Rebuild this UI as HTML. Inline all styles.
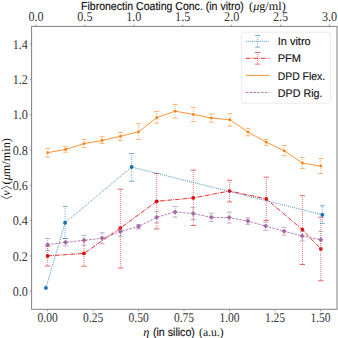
<!DOCTYPE html>
<html><head><meta charset="utf-8"><style>html,body{margin:0;padding:0;background:#fff;width:338px;height:338px;overflow:hidden}svg{display:block;text-rendering:geometricPrecision}</style></head>
<body><svg width="338" height="338" viewBox="0 0 338 338">
<rect width="338" height="338" fill="#fff"/>
<g fill="none"><g opacity="0.6"><line x1="47.6" y1="246" x2="47.6" y2="266.0" stroke="#e40505" stroke-width="0.9" stroke-dasharray="1 1"/><path d="M44.9 246.2H50.3M44.9 266.0H50.3" stroke="#e40505" stroke-width="1.0"/></g>
<g opacity="0.6"><line x1="83.9" y1="240" x2="83.9" y2="266.2" stroke="#e40505" stroke-width="0.9" stroke-dasharray="1 1"/><path d="M81.2 240.6H86.6M81.2 266.2H86.6" stroke="#e40505" stroke-width="1.0"/></g>
<g opacity="0.6"><line x1="120.4" y1="189" x2="120.4" y2="267.9" stroke="#e40505" stroke-width="0.9" stroke-dasharray="1 1"/><path d="M117.7 189.2H123.1M117.7 267.9H123.1" stroke="#e40505" stroke-width="1.0"/></g>
<g opacity="0.6"><line x1="156.7" y1="173" x2="156.7" y2="229.0" stroke="#e40505" stroke-width="0.9" stroke-dasharray="1 1"/><path d="M154.0 173.5H159.4M154.0 229.0H159.4" stroke="#e40505" stroke-width="1.0"/></g>
<g opacity="0.6"><line x1="193.3" y1="170" x2="193.3" y2="225.5" stroke="#e40505" stroke-width="0.9" stroke-dasharray="1 1"/><path d="M190.6 170.1H196.0M190.6 225.5H196.0" stroke="#e40505" stroke-width="1.0"/></g>
<g opacity="0.6"><line x1="229.5" y1="180" x2="229.5" y2="201.9" stroke="#e40505" stroke-width="0.9" stroke-dasharray="1 1"/><path d="M226.8 180.2H232.2M226.8 201.9H232.2" stroke="#e40505" stroke-width="1.0"/></g>
<g opacity="0.6"><line x1="266.3" y1="177" x2="266.3" y2="220.4" stroke="#e40505" stroke-width="0.9" stroke-dasharray="1 1"/><path d="M263.6 177.2H269.0M263.6 220.4H269.0" stroke="#e40505" stroke-width="1.0"/></g>
<g opacity="0.6"><line x1="302.4" y1="195" x2="302.4" y2="264.5" stroke="#e40505" stroke-width="0.9" stroke-dasharray="1 1"/><path d="M299.7 195.7H305.1M299.7 264.5H305.1" stroke="#e40505" stroke-width="1.0"/></g>
<g opacity="0.6"><line x1="320.8" y1="217" x2="320.8" y2="280.7" stroke="#e40505" stroke-width="0.9" stroke-dasharray="1 1"/><path d="M318.1 217.2H323.5M318.1 280.7H323.5" stroke="#e40505" stroke-width="1.0"/></g></g>
<polyline points="47.6,255.9 83.9,253.4 120.4,228.1 156.7,201.3 193.3,197.9 229.5,191.0 266.3,198.9 302.4,229.7 320.8,248.9" fill="none" stroke="#e40505" stroke-width="0.85" stroke-dasharray="4.5 1.1 0.9 1.1"/>
<circle cx="47.6" cy="255.9" r="1.85" fill="#e40505"/>
<circle cx="83.9" cy="253.4" r="1.85" fill="#e40505"/>
<circle cx="120.4" cy="228.1" r="1.85" fill="#e40505"/>
<circle cx="156.7" cy="201.3" r="1.85" fill="#e40505"/>
<circle cx="193.3" cy="197.9" r="1.85" fill="#e40505"/>
<circle cx="229.5" cy="191.0" r="1.85" fill="#e40505"/>
<circle cx="266.3" cy="198.9" r="1.85" fill="#e40505"/>
<circle cx="302.4" cy="229.7" r="1.85" fill="#e40505"/>
<circle cx="320.8" cy="248.9" r="1.85" fill="#e40505"/>
<g fill="none"><g opacity="0.6"><line x1="47.7" y1="148" x2="47.7" y2="157.1" stroke="#ff7f0e" stroke-width="0.9" stroke-dasharray="1 1"/><path d="M45.3 148.4H50.1M45.3 157.1H50.1" stroke="#ff7f0e" stroke-width="1.0"/></g>
<g opacity="0.6"><line x1="65.5" y1="146" x2="65.5" y2="152.1" stroke="#ff7f0e" stroke-width="0.9" stroke-dasharray="1 1"/><path d="M63.1 146.8H67.9M63.1 152.1H67.9" stroke="#ff7f0e" stroke-width="1.0"/></g>
<g opacity="0.6"><line x1="84.1" y1="139" x2="84.1" y2="147.6" stroke="#ff7f0e" stroke-width="0.9" stroke-dasharray="1 1"/><path d="M81.7 139.6H86.5M81.7 147.6H86.5" stroke="#ff7f0e" stroke-width="1.0"/></g>
<g opacity="0.6"><line x1="102.1" y1="136" x2="102.1" y2="143.4" stroke="#ff7f0e" stroke-width="0.9" stroke-dasharray="1 1"/><path d="M99.7 136.8H104.5M99.7 143.4H104.5" stroke="#ff7f0e" stroke-width="1.0"/></g>
<g opacity="0.6"><line x1="120.4" y1="132" x2="120.4" y2="140.4" stroke="#ff7f0e" stroke-width="0.9" stroke-dasharray="1 1"/><path d="M118.0 132.4H122.8M118.0 140.4H122.8" stroke="#ff7f0e" stroke-width="1.0"/></g>
<g opacity="0.6"><line x1="138.5" y1="123" x2="138.5" y2="139.4" stroke="#ff7f0e" stroke-width="0.9" stroke-dasharray="1 1"/><path d="M136.1 123.7H140.9M136.1 139.4H140.9" stroke="#ff7f0e" stroke-width="1.0"/></g>
<g opacity="0.6"><line x1="156.7" y1="111" x2="156.7" y2="123.1" stroke="#ff7f0e" stroke-width="0.9" stroke-dasharray="1 1"/><path d="M154.3 111.5H159.1M154.3 123.1H159.1" stroke="#ff7f0e" stroke-width="1.0"/></g>
<g opacity="0.6"><line x1="175.1" y1="104" x2="175.1" y2="118.1" stroke="#ff7f0e" stroke-width="0.9" stroke-dasharray="1 1"/><path d="M172.7 104.4H177.5M172.7 118.1H177.5" stroke="#ff7f0e" stroke-width="1.0"/></g>
<g opacity="0.6"><line x1="193.3" y1="107" x2="193.3" y2="121.5" stroke="#ff7f0e" stroke-width="0.9" stroke-dasharray="1 1"/><path d="M190.9 107.4H195.7M190.9 121.5H195.7" stroke="#ff7f0e" stroke-width="1.0"/></g>
<g opacity="0.6"><line x1="211.3" y1="114" x2="211.3" y2="122.1" stroke="#ff7f0e" stroke-width="0.9" stroke-dasharray="1 1"/><path d="M208.9 114.0H213.7M208.9 122.1H213.7" stroke="#ff7f0e" stroke-width="1.0"/></g>
<g opacity="0.6"><line x1="229.9" y1="113" x2="229.9" y2="126.1" stroke="#ff7f0e" stroke-width="0.9" stroke-dasharray="1 1"/><path d="M227.5 113.7H232.3M227.5 126.1H232.3" stroke="#ff7f0e" stroke-width="1.0"/></g>
<g opacity="0.6"><line x1="248.0" y1="128" x2="248.0" y2="135.8" stroke="#ff7f0e" stroke-width="0.9" stroke-dasharray="1 1"/><path d="M245.6 128.4H250.4M245.6 135.8H250.4" stroke="#ff7f0e" stroke-width="1.0"/></g>
<g opacity="0.6"><line x1="266.2" y1="139" x2="266.2" y2="145.3" stroke="#ff7f0e" stroke-width="0.9" stroke-dasharray="1 1"/><path d="M263.8 139.4H268.6M263.8 145.3H268.6" stroke="#ff7f0e" stroke-width="1.0"/></g>
<g opacity="0.6"><line x1="284.3" y1="145" x2="284.3" y2="155.8" stroke="#ff7f0e" stroke-width="0.9" stroke-dasharray="1 1"/><path d="M281.9 145.6H286.7M281.9 155.8H286.7" stroke="#ff7f0e" stroke-width="1.0"/></g>
<g opacity="0.6"><line x1="302.4" y1="157" x2="302.4" y2="168.6" stroke="#ff7f0e" stroke-width="0.9" stroke-dasharray="1 1"/><path d="M300.0 157.4H304.8M300.0 168.6H304.8" stroke="#ff7f0e" stroke-width="1.0"/></g>
<g opacity="0.6"><line x1="320.8" y1="158" x2="320.8" y2="173.5" stroke="#ff7f0e" stroke-width="0.9" stroke-dasharray="1 1"/><path d="M318.4 158.6H323.2M318.4 173.5H323.2" stroke="#ff7f0e" stroke-width="1.0"/></g></g>
<polyline points="47.7,152.6 65.5,149.5 84.1,143.6 102.1,140.5 120.4,136.3 138.5,131.8 156.7,117.7 175.1,111.2 193.3,114.4 211.3,118.1 229.9,119.7 248.0,132.1 266.2,142.1 284.3,150.8 302.4,163.0 320.8,166.1" fill="none" stroke="#ff7f0e" stroke-width="0.85"/>
<circle cx="47.7" cy="152.6" r="1.4" fill="#ff7f0e"/>
<circle cx="65.5" cy="149.5" r="1.4" fill="#ff7f0e"/>
<circle cx="84.1" cy="143.6" r="1.4" fill="#ff7f0e"/>
<circle cx="102.1" cy="140.5" r="1.4" fill="#ff7f0e"/>
<circle cx="120.4" cy="136.3" r="1.4" fill="#ff7f0e"/>
<circle cx="138.5" cy="131.8" r="1.4" fill="#ff7f0e"/>
<circle cx="156.7" cy="117.7" r="1.4" fill="#ff7f0e"/>
<circle cx="175.1" cy="111.2" r="1.4" fill="#ff7f0e"/>
<circle cx="193.3" cy="114.4" r="1.4" fill="#ff7f0e"/>
<circle cx="211.3" cy="118.1" r="1.4" fill="#ff7f0e"/>
<circle cx="229.9" cy="119.7" r="1.4" fill="#ff7f0e"/>
<circle cx="248.0" cy="132.1" r="1.4" fill="#ff7f0e"/>
<circle cx="266.2" cy="142.1" r="1.4" fill="#ff7f0e"/>
<circle cx="284.3" cy="150.8" r="1.4" fill="#ff7f0e"/>
<circle cx="302.4" cy="163.0" r="1.4" fill="#ff7f0e"/>
<circle cx="320.8" cy="166.1" r="1.4" fill="#ff7f0e"/>
<g fill="none"><g opacity="0.6"><line x1="47.6" y1="238" x2="47.6" y2="250.3" stroke="#a46aa4" stroke-width="0.9" stroke-dasharray="1 1"/><path d="M45.2 238.5H50.0M45.2 250.3H50.0" stroke="#a46aa4" stroke-width="1.0"/></g>
<g opacity="0.6"><line x1="65.5" y1="238" x2="65.5" y2="245.9" stroke="#a46aa4" stroke-width="0.9" stroke-dasharray="1 1"/><path d="M63.1 238.6H67.9M63.1 245.9H67.9" stroke="#a46aa4" stroke-width="1.0"/></g>
<g opacity="0.6"><line x1="84.0" y1="235" x2="84.0" y2="245.3" stroke="#a46aa4" stroke-width="0.9" stroke-dasharray="1 1"/><path d="M81.6 235.6H86.4M81.6 245.3H86.4" stroke="#a46aa4" stroke-width="1.0"/></g>
<g opacity="0.6"><line x1="102.2" y1="232" x2="102.2" y2="243.7" stroke="#a46aa4" stroke-width="0.9" stroke-dasharray="1 1"/><path d="M99.8 232.9H104.6M99.8 243.7H104.6" stroke="#a46aa4" stroke-width="1.0"/></g>
<g opacity="0.6"><line x1="120.4" y1="226" x2="120.4" y2="236.1" stroke="#a46aa4" stroke-width="0.9" stroke-dasharray="1 1"/><path d="M118.0 226.8H122.8M118.0 236.1H122.8" stroke="#a46aa4" stroke-width="1.0"/></g>
<g opacity="0.6"><line x1="138.5" y1="224" x2="138.5" y2="228.9" stroke="#a46aa4" stroke-width="0.9" stroke-dasharray="1 1"/><path d="M136.1 224.5H140.9M136.1 228.9H140.9" stroke="#a46aa4" stroke-width="1.0"/></g>
<g opacity="0.6"><line x1="156.7" y1="211" x2="156.7" y2="222.9" stroke="#a46aa4" stroke-width="0.9" stroke-dasharray="1 1"/><path d="M154.3 211.6H159.1M154.3 222.9H159.1" stroke="#a46aa4" stroke-width="1.0"/></g>
<g opacity="0.6"><line x1="175.1" y1="206" x2="175.1" y2="217.1" stroke="#a46aa4" stroke-width="0.9" stroke-dasharray="1 1"/><path d="M172.7 206.6H177.5M172.7 217.1H177.5" stroke="#a46aa4" stroke-width="1.0"/></g>
<g opacity="0.6"><line x1="193.2" y1="207" x2="193.2" y2="219.6" stroke="#a46aa4" stroke-width="0.9" stroke-dasharray="1 1"/><path d="M190.8 207.6H195.6M190.8 219.6H195.6" stroke="#a46aa4" stroke-width="1.0"/></g>
<g opacity="0.6"><line x1="211.3" y1="213" x2="211.3" y2="221.4" stroke="#a46aa4" stroke-width="0.9" stroke-dasharray="1 1"/><path d="M208.9 213.3H213.7M208.9 221.4H213.7" stroke="#a46aa4" stroke-width="1.0"/></g>
<g opacity="0.6"><line x1="229.2" y1="212" x2="229.2" y2="223.0" stroke="#a46aa4" stroke-width="0.9" stroke-dasharray="1 1"/><path d="M226.8 212.1H231.6M226.8 223.0H231.6" stroke="#a46aa4" stroke-width="1.0"/></g>
<g opacity="0.6"><line x1="247.9" y1="217" x2="247.9" y2="224.3" stroke="#a46aa4" stroke-width="0.9" stroke-dasharray="1 1"/><path d="M245.5 217.9H250.3M245.5 224.3H250.3" stroke="#a46aa4" stroke-width="1.0"/></g>
<g opacity="0.6"><line x1="265.7" y1="222" x2="265.7" y2="230.3" stroke="#a46aa4" stroke-width="0.9" stroke-dasharray="1 1"/><path d="M263.3 222.1H268.1M263.3 230.3H268.1" stroke="#a46aa4" stroke-width="1.0"/></g>
<g opacity="0.6"><line x1="284.1" y1="227" x2="284.1" y2="235.1" stroke="#a46aa4" stroke-width="0.9" stroke-dasharray="1 1"/><path d="M281.7 227.4H286.5M281.7 235.1H286.5" stroke="#a46aa4" stroke-width="1.0"/></g>
<g opacity="0.6"><line x1="302.2" y1="231" x2="302.2" y2="240.9" stroke="#a46aa4" stroke-width="0.9" stroke-dasharray="1 1"/><path d="M299.8 231.0H304.6M299.8 240.9H304.6" stroke="#a46aa4" stroke-width="1.0"/></g>
<g opacity="0.6"><line x1="320.8" y1="231" x2="320.8" y2="248.3" stroke="#a46aa4" stroke-width="0.9" stroke-dasharray="1 1"/><path d="M318.4 231.3H323.2M318.4 248.3H323.2" stroke="#a46aa4" stroke-width="1.0"/></g></g>
<polyline points="47.6,244.7 65.5,242.3 84.0,240.3 102.2,238.3 120.4,231.6 138.5,226.6 156.7,217.3 175.1,211.9 193.2,213.6 211.3,217.3 229.2,217.6 247.9,221.1 265.7,226.1 284.1,231.3 302.2,235.9 320.8,239.8" fill="none" stroke="#a46aa4" stroke-width="0.85" stroke-dasharray="2.6 1.2"/>
<path d="M47.6 242.2L50.1 244.7L47.6 247.2L45.1 244.7Z" fill="#a46aa4"/>
<path d="M65.5 239.8L68.0 242.3L65.5 244.8L63.0 242.3Z" fill="#a46aa4"/>
<path d="M84.0 237.8L86.5 240.3L84.0 242.8L81.5 240.3Z" fill="#a46aa4"/>
<path d="M102.2 235.8L104.7 238.3L102.2 240.8L99.7 238.3Z" fill="#a46aa4"/>
<path d="M120.4 229.1L122.9 231.6L120.4 234.1L117.9 231.6Z" fill="#a46aa4"/>
<path d="M138.5 224.1L141.0 226.6L138.5 229.1L136.0 226.6Z" fill="#a46aa4"/>
<path d="M156.7 214.8L159.2 217.3L156.7 219.8L154.2 217.3Z" fill="#a46aa4"/>
<path d="M175.1 209.4L177.6 211.9L175.1 214.4L172.6 211.9Z" fill="#a46aa4"/>
<path d="M193.2 211.1L195.7 213.6L193.2 216.1L190.7 213.6Z" fill="#a46aa4"/>
<path d="M211.3 214.8L213.8 217.3L211.3 219.8L208.8 217.3Z" fill="#a46aa4"/>
<path d="M229.2 215.1L231.7 217.6L229.2 220.1L226.7 217.6Z" fill="#a46aa4"/>
<path d="M247.9 218.6L250.4 221.1L247.9 223.6L245.4 221.1Z" fill="#a46aa4"/>
<path d="M265.7 223.6L268.2 226.1L265.7 228.6L263.2 226.1Z" fill="#a46aa4"/>
<path d="M284.1 228.8L286.6 231.3L284.1 233.8L281.6 231.3Z" fill="#a46aa4"/>
<path d="M302.2 233.4L304.7 235.9L302.2 238.4L299.7 235.9Z" fill="#a46aa4"/>
<path d="M320.8 237.3L323.3 239.8L320.8 242.3L318.3 239.8Z" fill="#a46aa4"/>
<g fill="none"><g opacity="0.6"><line x1="65.1" y1="206" x2="65.1" y2="238.4" stroke="#1a6fb4" stroke-width="0.9" stroke-dasharray="1 1"/><path d="M62.7 206.4H67.5M62.7 238.4H67.5" stroke="#1a6fb4" stroke-width="1.0"/></g>
<g opacity="0.6"><line x1="131.6" y1="153" x2="131.6" y2="181.2" stroke="#1a6fb4" stroke-width="0.9" stroke-dasharray="1 1"/><path d="M129.2 153.5H134.0M129.2 181.2H134.0" stroke="#1a6fb4" stroke-width="1.0"/></g>
<g opacity="0.6"><line x1="322.3" y1="205" x2="322.3" y2="223.3" stroke="#1a6fb4" stroke-width="0.9" stroke-dasharray="1 1"/><path d="M319.9 205.9H324.7M319.9 223.3H324.7" stroke="#1a6fb4" stroke-width="1.0"/></g></g>
<polyline points="45.9,287.9 65.1,222.7 131.6,167.0 322.3,214.7" fill="none" stroke="#1a6fb4" stroke-width="0.85" stroke-dasharray="0.9 1.1"/>
<circle cx="45.9" cy="287.9" r="1.95" fill="#1a6fb4"/>
<circle cx="65.1" cy="222.7" r="1.95" fill="#1a6fb4"/>
<circle cx="131.6" cy="167.0" r="1.95" fill="#1a6fb4"/>
<circle cx="322.3" cy="214.7" r="1.95" fill="#1a6fb4"/>
<rect x="31.6" y="26.4" width="305.4" height="282.9" fill="none" stroke="#808080" stroke-width="1"/>
<g stroke="#808080" stroke-width="0.8"><line x1="29.8" y1="291.3" x2="31.6" y2="291.3"/><line x1="29.8" y1="256.0" x2="31.6" y2="256.0"/><line x1="29.8" y1="220.6" x2="31.6" y2="220.6"/><line x1="29.8" y1="185.3" x2="31.6" y2="185.3"/><line x1="29.8" y1="150.0" x2="31.6" y2="150.0"/><line x1="29.8" y1="114.7" x2="31.6" y2="114.7"/><line x1="29.8" y1="79.3" x2="31.6" y2="79.3"/><line x1="29.8" y1="44.0" x2="31.6" y2="44.0"/><line x1="47.6" y1="309.3" x2="47.6" y2="311.1"/><line x1="93.1" y1="309.3" x2="93.1" y2="311.1"/><line x1="138.6" y1="309.3" x2="138.6" y2="311.1"/><line x1="184.0" y1="309.3" x2="184.0" y2="311.1"/><line x1="229.5" y1="309.3" x2="229.5" y2="311.1"/><line x1="275.0" y1="309.3" x2="275.0" y2="311.1"/><line x1="320.5" y1="309.3" x2="320.5" y2="311.1"/><line x1="36.0" y1="26.4" x2="36.0" y2="24.6"/><line x1="84.9" y1="26.4" x2="84.9" y2="24.6"/><line x1="133.8" y1="26.4" x2="133.8" y2="24.6"/><line x1="182.7" y1="26.4" x2="182.7" y2="24.6"/><line x1="231.7" y1="26.4" x2="231.7" y2="24.6"/><line x1="280.6" y1="26.4" x2="280.6" y2="24.6"/><line x1="329.5" y1="26.4" x2="329.5" y2="24.6"/></g>
<g font-family="'Liberation Serif', serif" font-size="13.4" fill="#333"><text x="27.9" y="295.8" text-anchor="end" textLength="15.2" lengthAdjust="spacingAndGlyphs">0.0</text><text x="27.9" y="260.5" text-anchor="end" textLength="15.2" lengthAdjust="spacingAndGlyphs">0.2</text><text x="27.9" y="225.1" text-anchor="end" textLength="15.2" lengthAdjust="spacingAndGlyphs">0.4</text><text x="27.9" y="189.8" text-anchor="end" textLength="15.2" lengthAdjust="spacingAndGlyphs">0.6</text><text x="27.9" y="154.5" text-anchor="end" textLength="15.2" lengthAdjust="spacingAndGlyphs">0.8</text><text x="27.9" y="119.2" text-anchor="end" textLength="15.2" lengthAdjust="spacingAndGlyphs">1.0</text><text x="27.9" y="83.8" text-anchor="end" textLength="15.2" lengthAdjust="spacingAndGlyphs">1.2</text><text x="27.9" y="48.5" text-anchor="end" textLength="15.2" lengthAdjust="spacingAndGlyphs">1.4</text><text x="47.6" y="322.0" text-anchor="middle" textLength="20.2" lengthAdjust="spacingAndGlyphs">0.00</text><text x="93.1" y="322.0" text-anchor="middle" textLength="20.2" lengthAdjust="spacingAndGlyphs">0.25</text><text x="138.6" y="322.0" text-anchor="middle" textLength="20.2" lengthAdjust="spacingAndGlyphs">0.50</text><text x="184.0" y="322.0" text-anchor="middle" textLength="20.2" lengthAdjust="spacingAndGlyphs">0.75</text><text x="229.5" y="322.0" text-anchor="middle" textLength="20.2" lengthAdjust="spacingAndGlyphs">1.00</text><text x="275.0" y="322.0" text-anchor="middle" textLength="20.2" lengthAdjust="spacingAndGlyphs">1.25</text><text x="320.5" y="322.0" text-anchor="middle" textLength="20.2" lengthAdjust="spacingAndGlyphs">1.50</text><text x="36.0" y="20.8" text-anchor="middle" textLength="15.2" lengthAdjust="spacingAndGlyphs">0.0</text><text x="84.9" y="20.8" text-anchor="middle" textLength="15.2" lengthAdjust="spacingAndGlyphs">0.5</text><text x="133.8" y="20.8" text-anchor="middle" textLength="15.2" lengthAdjust="spacingAndGlyphs">1.0</text><text x="182.7" y="20.8" text-anchor="middle" textLength="15.2" lengthAdjust="spacingAndGlyphs">1.5</text><text x="231.7" y="20.8" text-anchor="middle" textLength="15.2" lengthAdjust="spacingAndGlyphs">2.0</text><text x="280.6" y="20.8" text-anchor="middle" textLength="15.2" lengthAdjust="spacingAndGlyphs">2.5</text><text x="329.5" y="20.8" text-anchor="middle" textLength="15.2" lengthAdjust="spacingAndGlyphs">3.0</text></g>
<rect x="241.4" y="32.2" width="89.2" height="71" rx="3" fill="#fff" fill-opacity="0.8" stroke="#ebebeb" stroke-width="1"/>
<g fill="none"><line x1="245.8" y1="41.3" x2="269.5" y2="41.3" stroke="#1a6fb4" stroke-width="0.85" stroke-dasharray="0.9 1.1"/>
<g opacity="0.6"><line x1="257.6" y1="35" x2="257.6" y2="47.1" stroke="#1a6fb4" stroke-width="0.9" stroke-dasharray="1 1"/><path d="M255.2 35.5H260.0M255.2 47.1H260.0" stroke="#1a6fb4" stroke-width="1.0"/></g>
<line x1="245.8" y1="58.3" x2="269.5" y2="58.3" stroke="#e40505" stroke-width="0.85" stroke-dasharray="4.5 1.1 0.9 1.1"/>
<g opacity="0.6"><line x1="257.6" y1="52" x2="257.6" y2="64.1" stroke="#e40505" stroke-width="0.9" stroke-dasharray="1 1"/><path d="M254.9 52.5H260.3M254.9 64.1H260.3" stroke="#e40505" stroke-width="1.0"/></g>
<line x1="245.8" y1="75.4" x2="269.5" y2="75.4" stroke="#ff7f0e" stroke-width="0.85"/>
<line x1="245.8" y1="92.5" x2="269.5" y2="92.5" stroke="#a46aa4" stroke-width="0.85" stroke-dasharray="2.6 1.2"/></g>
<g font-family="'Liberation Sans', sans-serif" font-size="11" fill="#111" stroke="#111" stroke-width="0.15">
<text x="277.7" y="45.2">In vitro</text>
<text x="277.7" y="62.4">PFM</text>
<text x="277.7" y="79.6" textLength="47.4" lengthAdjust="spacingAndGlyphs">DPD Flex.</text>
<text x="277.7" y="96.7" textLength="44.9" lengthAdjust="spacingAndGlyphs">DPD Rig.</text>
</g>
<g fill="#111">
<text x="81.0" y="9.6" font-family="'Liberation Sans', sans-serif" font-size="11.5" stroke="#111" stroke-width="0.15" textLength="162.8" lengthAdjust="spacingAndGlyphs">Fibronectin Coating Conc. (in vitro)</text>
<text x="249.08" y="9.6" font-family="'Liberation Serif', serif" font-size="12" textLength="36.63" lengthAdjust="spacingAndGlyphs">(<tspan font-style="italic">μ</tspan>g/ml)</text>
<text x="143.35" y="335.7" font-family="'Liberation Serif', serif" font-style="italic" font-size="12" textLength="6.12" lengthAdjust="spacingAndGlyphs">η</text>
<text x="152.92" y="335.7" font-family="'Liberation Sans', sans-serif" font-size="11.5" stroke="#111" stroke-width="0.15" textLength="42.02" lengthAdjust="spacingAndGlyphs">(in silico)</text>
<text x="199.09" y="335.7" font-family="'Liberation Serif', serif" font-size="12" textLength="24.52" lengthAdjust="spacingAndGlyphs">(a.u.)</text>
<g transform="translate(9.6,0) rotate(-90)">
<polyline points="-196.0,2.5 -198.7,-3 -196.0,-8.5" fill="none" stroke="#222" stroke-width="0.75"/>
<text x="-195.8" y="0" font-size="12" font-family="'Liberation Serif', serif" font-style="italic">v</text>
<polyline points="-189.0,2.5 -186.3,-3 -189.0,-8.5" fill="none" stroke="#222" stroke-width="0.75"/>
<text x="-184.4" y="0" font-size="12" font-family="'Liberation Serif', serif" textLength="46.3" lengthAdjust="spacingAndGlyphs">(<tspan font-style="italic">μ</tspan>m/min)</text>
</g>
</g>
</svg></body></html>
